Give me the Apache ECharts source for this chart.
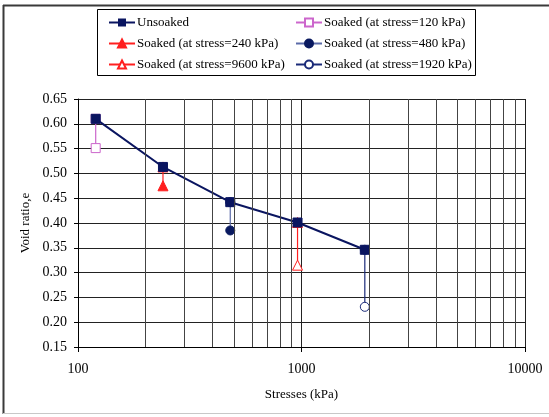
<!DOCTYPE html>
<html><head><meta charset="utf-8">
<script src="https://cdn.jsdelivr.net/npm/echarts@6/dist/echarts.min.js"></script>
<style>html,body{margin:0;padding:0;background:#fff}#c{width:549px;height:417px}</style>
</head><body><div id="c"></div>
<script>
const stresses = [120, 240, 480, 960, 1920];
const unsoaked = [0.610, 0.513, 0.442, 0.401, 0.346];
const soakedNames = ['Soaked (at stress=120 kPa)','Soaked (at stress=240 kPa)','Soaked (at stress=480 kPa)','Soaked (at stress=9600 kPa)','Soaked (at stress=1920 kPa)'];
const soakedStress = [120, 240, 480, 960, 1920];
const soakedStart = [0.610, 0.513, 0.442, 0.401, 0.346];
const soakedEnd = [0.551, 0.475, 0.385, 0.315, 0.231];
const xMinorLines = [200,300,400,500,600,700,800,900,2000,3000,4000,5000,6000,7000,8000,9000];
const yTicks = [0.15,0.65,0.05];

const font = 'Liberation Serif';
const soakedStyle = [
  {color:'#cc66cc', symbol:'rect', size:9, fill:'#fff'},
  {color:'#ff1f1f', symbol:'triangle', size:10, fill:'#ff1f1f'},
  {color:'#5a6aa8', symbol:'circle', size:9, fill:'#0a1a60', border:'#0a1a60'},
  {color:'#ff1f1f', symbol:'triangle', size:10, fill:'#fff'},
  {color:'#1a2a78', symbol:'circle', size:9, fill:'#fff'}
];
const series = [];
soakedNames.forEach((n,i)=>{
  const st = soakedStyle[i];
  series.push({
    name:n, type:'line', z:2,
    data:[[soakedStress[i], soakedStart[i]], [soakedStress[i], soakedEnd[i]]],
    symbol: st.symbol, symbolSize: st.size,
    lineStyle:{color:st.color, width:1.2},
    itemStyle:{color:st.fill, borderColor: st.border || st.color, borderWidth:1},
    animation:false
  });
});
series.unshift({
  name:'Unsoaked', type:'line', z:3,
  data: stresses.map((s,i)=>[s, unsoaked[i]]),
  symbol:'rect', symbolSize:9,
  lineStyle:{color:'#0a1560', width:2},
  itemStyle:{color:'#0a1560', borderColor:'#0a1560'},
  animation:false,
  markLine:{
    silent:true, symbol:['none','none'], label:{show:false}, animation:false,
    lineStyle:{color:'#444', width:1, type:'solid'},
    data: xMinorLines.map(v=>({xAxis:v}))
  }
});
const chart = echarts.init(document.getElementById('c'));
chart.setOption({
  backgroundColor:'#fff',
  animation:false,
  textStyle:{fontFamily:font},
  grid:{left:78, right:24, top:99, bottom:70},
  xAxis:{
    type:'log', logBase:10, min:100, max:10000,
    name:'Stresses (kPa)', nameLocation:'middle', nameGap:41,
    nameTextStyle:{fontFamily:font, fontSize:13, color:'#000'},
    axisLine:{lineStyle:{color:'#000', width:1}},
    axisTick:{show:true, length:5, inside:false, lineStyle:{color:'#000'}},
    axisLabel:{fontFamily:font, fontSize:14, color:'#000', margin:15, formatter:v=>String(Math.round(v))},
    splitLine:{show:true, lineStyle:{color:'#222', width:1}}
  },
  yAxis:{
    type:'value', min:yTicks[0], max:yTicks[1], interval:yTicks[2],
    name:'Void ratio,e', nameLocation:'middle', nameGap:43,
    nameTextStyle:{fontFamily:font, fontSize:13, color:'#000'},
    axisLine:{show:true, lineStyle:{color:'#000'}},
    axisTick:{show:true, length:4, lineStyle:{color:'#000'}},
    axisLabel:{fontFamily:font, fontSize:14, color:'#000', margin:11, formatter:v=>v.toFixed(2)},
    splitLine:{show:true, lineStyle:{color:'#222', width:1}}
  },
  legend:[
    {left:103, top:11, orient:'vertical', itemGap:8, itemWidth:26, itemHeight:10,
     data:['Unsoaked', soakedNames[1], soakedNames[3]],
     textStyle:{fontFamily:font, fontSize:13, color:'#000', padding:[0,0,0,-3]}},
    {left:290, top:11, orient:'vertical', itemGap:8, itemWidth:26, itemHeight:10,
     data:[soakedNames[0], soakedNames[2], soakedNames[4]],
     textStyle:{fontFamily:font, fontSize:13, color:'#000', padding:[0,0,0,-3]}}
  ],
  graphic:[
    {type:'rect', shape:{x:97.5, y:9.5, width:378, height:66}, style:{fill:'none', stroke:'#000', lineWidth:1}, silent:true},
    {type:'line', shape:{x1:3, y1:5.5, x2:549, y2:5.5}, style:{stroke:'#3a3a3a', lineWidth:2}},
    {type:'line', shape:{x1:3.5, y1:5, x2:3.5, y2:414}, style:{stroke:'#3a3a3a', lineWidth:2}},
    {type:'line', shape:{x1:3, y1:413.5, x2:549, y2:413.5}, style:{stroke:'#c8c8c8', lineWidth:1}}
  ],
  series: series
});
</script></body></html>
